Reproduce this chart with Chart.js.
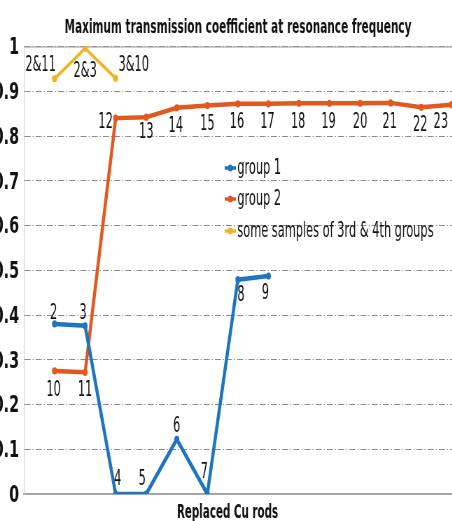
<!DOCTYPE html>
<html><head><meta charset="utf-8">
<script src="https://cdn.jsdelivr.net/npm/chart.js@4.4.1/dist/chart.umd.min.js"></script>
<style>
html,body{margin:0;padding:0;background:#fff;overflow:hidden;width:452px;height:521px;}
#wrap{position:absolute;left:0;top:0;width:693px;height:521px;transform:scaleX(0.7);transform-origin:0 0;}
</style></head><body>
<div id="wrap"><canvas id="c" width="693" height="521"></canvas></div>
<script>
// ---- data ----
const chartTitle = 'Maximum transmission coefficient at resonance frequency';
const xAxisTitle = 'Replaced Cu rods';
const seriesNames = ['group 1', 'group 2', 'some samples of 3rd & 4th groups'];
const group1Labels = ['2', '3', '4', '5', '6', '7', '8', '9'];
const group1Values = [0.380, 0.376, 0, 0, 0.122, 0, 0.479, 0.487];
const group2Labels = ['10', '11', '12', '13', '14', '15', '16', '17', '18', '19', '20', '21', '22', '23'];
const group2Values = [0.275, 0.272, 0.840, 0.842, 0.863, 0.868, 0.872, 0.872, 0.873, 0.873, 0.873, 0.874, 0.864, 0.870];
const group3Labels = ['2&11', '2&3', '3&10'];
const group3Values = [0.928, 0.996, 0.929];
const yTickLabels = ['0', '0.1', '0.2', '0.3', '0.4', '0.5', '0.6', '0.7', '0.8', '0.9', '1'];
const yMin = 0, yMax = 1, yStep = 0.1;

// ---- styles ----
const FONT = '"DejaVu Sans Condensed", "Liberation Sans Narrow", sans-serif';
const SX = 0.82; // extra horizontal squeeze for drawn text
const colors = ['#1f74c2', '#e2581d', '#f1b425'];
const group1Offsets = [[-1.4,-11],[-2.9,-12],[2.9,-15],[-5.7,-15],[0,-13],[-4.3,-22],[4.3,16],[-4.3,17]];
const group2Offsets = [[-1.4,19],[0,18],[-14.3,4],[0,15],[-1.4,18],[0,19],[-1.4,19],[-1.4,19],[-1.4,19],[-1.4,19],[0,19],[-1.4,19],[-1.4,18],[-15.7,18]];
const group3Offsets = [[-20,-13],[0,23],[25.7,-13]];

const toXY = vals => vals.map((v, i) => ({x: i, y: v}));

const datasets = [
  {label: seriesNames[0], data: toXY(group1Values), pointLabels: group1Labels, labelOffsets: group1Offsets},
  {label: seriesNames[1], data: toXY(group2Values), pointLabels: group2Labels, labelOffsets: group2Offsets},
  {label: seriesNames[2], data: toXY(group3Values), pointLabels: group3Labels, labelOffsets: group3Offsets}
].map((d, i) => Object.assign(d, {
  borderColor: colors[i], backgroundColor: colors[i],
  pointBackgroundColor: colors[i], pointBorderWidth: 0,
  pointRadius: 3.6, borderWidth: i === 2 ? 3.5 : 4.5, tension: 0, fill: false
}));

function squeezeText(ctx, text, x, y, sx) {
  ctx.save();
  ctx.translate(x, y);
  ctx.scale(sx || SX, 1);
  ctx.fillText(text, 0, 0);
  ctx.restore();
}

const extras = {
  id: 'extras',
  beforeDatasetsDraw(chart) {
    const {ctx, chartArea} = chart;
    ctx.save();
    ctx.strokeStyle = '#9a9a9a';
    ctx.lineWidth = 1;
    ctx.beginPath();
    ctx.moveTo(chartArea.left, chartArea.top + 0.5);
    ctx.lineTo(chartArea.right, chartArea.top + 0.5);
    ctx.stroke();
    ctx.restore();
  },
  afterDatasetsDraw(chart) {
    const {ctx} = chart;
    ctx.save();
    ctx.fillStyle = '#111';
    // title
    ctx.font = 'bold 20px ' + FONT;
    ctx.textAlign = 'center';
    ctx.textBaseline = 'alphabetic';
    squeezeText(ctx, chartTitle, 340, 32.5, 0.835);
    // point labels
    ctx.font = '22px ' + FONT;
    ctx.textBaseline = 'middle';
    chart.data.datasets.forEach((ds, di) => {
      const meta = chart.getDatasetMeta(di);
      meta.data.forEach((pt, i) => {
        const off = ds.labelOffsets[i];
        squeezeText(ctx, ds.pointLabels[i], pt.x + off[0], pt.y + off[1]);
      });
    });
    // legend inside plot
    const lx = 321, rows = [168, 199, 231];
    ctx.textAlign = 'left';
    chart.data.datasets.forEach((ds, di) => {
      const y = rows[di];
      ctx.strokeStyle = ds.borderColor;
      ctx.lineWidth = 3.5;
      ctx.beginPath(); ctx.moveTo(lx, y); ctx.lineTo(lx + 16, y); ctx.stroke();
      ctx.fillStyle = ds.borderColor;
      ctx.beginPath(); ctx.arc(lx + 8, y, 3.6, 0, Math.PI * 2); ctx.fill();
      ctx.fillStyle = '#111';
      ctx.font = '22px ' + FONT;
      squeezeText(ctx, ds.label, lx + 18, y);
    });
    // x axis title
    ctx.font = 'bold 20px ' + FONT;
    ctx.textAlign = 'center';
    ctx.textBaseline = 'alphabetic';
    squeezeText(ctx, xAxisTitle, 325, 518);
    ctx.restore();
  }
};

new Chart(document.getElementById('c'), {
  type: 'line',
  data: {datasets},
  options: {
    responsive: false,
    animation: false,
    layout: {padding: {top: 46.5, left: 0, right: 0, bottom: 0}},
    plugins: {
      legend: {display: false},
      tooltip: {enabled: false},
      title: {display: false}
    },
    scales: {
      x: {
        type: 'linear', min: -1, max: 14,
        ticks: {display: false},
        grid: {display: false, drawTicks: false},
        border: {display: true, color: '#a6a6a6', width: 2},
        afterFit: s => { s.height = 27; }
      },
      y: {
        min: yMin, max: yMax,
        ticks: {stepSize: yStep, color: '#111', padding: 7, labelOffset: 2,
          font: {family: FONT, size: 23, weight: 'bold'},
          callback: (v, i) => yTickLabels[i]},
        grid: {color: '#8c8c8c', lineWidth: 1, drawTicks: false},
        border: {display: true, color: '#c8c8c8', width: 1, dash: [8.5, 3, 1.5, 3]},
        afterFit: s => { s.width = 34.3; }
      }
    }
  },
  plugins: [extras]
});
</script>
</body></html>
